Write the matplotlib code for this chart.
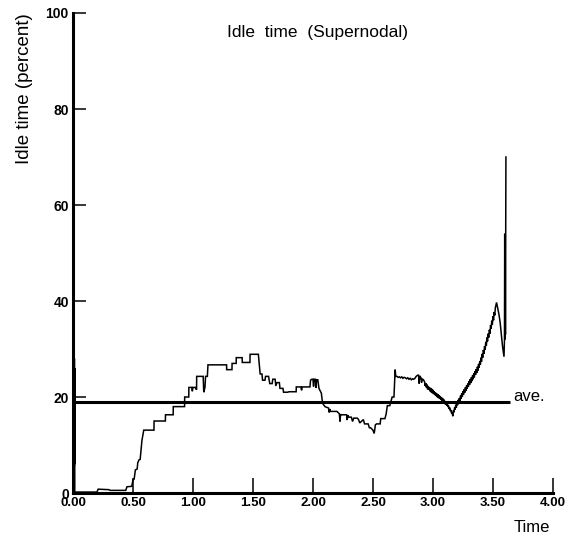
import matplotlib
matplotlib.use("Agg")
import matplotlib.pyplot as plt

plt.rcParams['font.family'] = ['Liberation Sans', 'DejaVu Sans']

# Idle time trace (percent) over time
time = [
    0.000, 0.001, 0.002, 0.003, 0.004, 0.005, 0.006, 0.007, 0.008, 0.009,
    0.010, 0.011, 0.012, 0.013, 0.014, 0.015,
    0.20, 0.21, 0.30, 0.31, 0.44, 0.45, 0.49, 0.50, 0.51, 0.52, 0.535, 0.54,
    0.55, 0.56, 0.575, 0.59, 0.675, 0.676, 0.77, 0.771, 0.835, 0.836, 0.93, 0.931,
    0.965, 0.966, 0.99, 0.995, 1.00, 1.02, 1.03, 1.031, 1.085, 1.09, 1.10, 1.105,
    1.12, 1.125, 1.28, 1.281, 1.325, 1.326, 1.36, 1.361, 1.41, 1.411, 1.475, 1.476,
    1.545, 1.56, 1.575, 1.58, 1.60, 1.605, 1.63, 1.64, 1.66, 1.665, 1.685, 1.69,
    1.70, 1.72, 1.725, 1.75, 1.755, 1.79, 1.80, 1.86, 1.861, 1.90, 1.905, 1.91,
    1.975, 1.98, 1.99, 2.00, 2.005, 2.01, 2.02, 2.025, 2.03, 2.04, 2.05, 2.07,
    2.08, 2.10, 2.13, 2.135, 2.14, 2.145, 2.20, 2.22, 2.225, 2.23, 2.235, 2.28,
    2.285, 2.29, 2.30, 2.32, 2.33, 2.34, 2.37, 2.38, 2.39, 2.42, 2.43, 2.44,
    2.46, 2.47, 2.48, 2.50, 2.51, 2.515, 2.52, 2.53, 2.56, 2.565, 2.60, 2.61,
    2.62, 2.64, 2.66, 2.675, 2.685, 2.69, 2.695, 2.70,
    2.71, 2.72, 2.73, 2.74, 2.75, 2.76, 2.77, 2.78, 2.79, 2.80, 2.81, 2.82,
    2.83, 2.84, 2.85, 2.86, 2.87, 2.88, 2.885, 2.89, 2.90, 2.905, 2.91, 2.92,
    2.93, 2.935, 2.94, 2.945, 2.95, 2.955, 2.96, 2.965, 2.97, 2.975, 2.98, 2.985,
    2.99, 2.995, 3.00, 3.005, 3.01, 3.015, 3.02, 3.025, 3.03, 3.035, 3.04, 3.045,
    3.05, 3.055, 3.06, 3.065, 3.07, 3.075, 3.08, 3.085, 3.09, 3.095, 3.10, 3.105,
    3.11, 3.115, 3.12, 3.125, 3.13, 3.135, 3.14, 3.145, 3.15, 3.155, 3.16, 3.165,
    3.17, 3.175, 3.18, 3.185, 3.19, 3.195, 3.20, 3.205, 3.21, 3.215, 3.22, 3.225,
    3.23, 3.235, 3.24, 3.245, 3.25, 3.255, 3.26, 3.265, 3.27, 3.275, 3.28, 3.285,
    3.29, 3.295, 3.30, 3.305, 3.31, 3.315, 3.32, 3.325, 3.33, 3.335, 3.34, 3.345,
    3.35, 3.355, 3.36, 3.365, 3.37, 3.375, 3.38, 3.385, 3.39, 3.395, 3.40, 3.405,
    3.41, 3.415, 3.42, 3.425, 3.43, 3.435, 3.44, 3.445, 3.45, 3.455, 3.46, 3.465,
    3.47, 3.475, 3.48, 3.485, 3.49, 3.495, 3.50, 3.505, 3.51, 3.515, 3.52, 3.53,
    3.54, 3.55, 3.56, 3.57, 3.58, 3.592,
    3.596, 3.598, 3.600, 3.602, 3.604, 3.606, 3.608,
]
idle = [
    70.0, 6.0, 31.0, 5.5, 30.5, 5.5, 30.0, 5.0, 29.5, 5.0,
    29.0, 5.5, 28.0, 6.0, 26.0, 0.2,
    0.2, 0.8, 0.7, 0.55, 0.55, 1.3, 1.4, 2.7, 2.9, 4.8, 5.0, 6.3,
    6.9, 7.0, 11.0, 13.1, 13.1, 15.0, 15.0, 16.3, 16.3, 18.0, 18.0, 20.0,
    20.0, 22.0, 22.0, 21.2, 22.0, 22.0, 21.5, 24.3, 24.3, 21.0, 22.0, 24.3,
    24.3, 26.7, 26.7, 25.7, 25.7, 27.0, 27.0, 28.2, 28.2, 27.2, 27.2, 28.9,
    28.9, 24.8, 24.8, 23.5, 23.5, 24.3, 24.3, 22.8, 22.8, 23.7, 23.7, 22.3,
    23.0, 23.0, 21.8, 21.8, 21.0, 21.0, 21.1, 21.1, 22.1, 22.1, 21.4, 22.1,
    22.1, 23.5, 23.7, 23.7, 22.2, 23.7, 23.7, 21.9, 23.6, 23.6, 21.8, 20.8,
    18.7, 18.0, 17.7, 16.8, 17.5, 17.0, 17.0, 16.5, 14.9, 16.4, 16.3, 16.3,
    15.2, 16.2, 15.8, 15.8, 14.9, 15.6, 15.6, 15.3, 14.6, 15.3, 14.4, 14.4,
    14.4, 13.6, 13.6, 13.1, 12.4, 13.2, 14.2, 14.4, 14.4, 15.5, 15.5, 16.5,
    18.2, 18.2, 20.0, 20.0, 25.7, 24.3, 24.3, 24.3,
    24.1, 24.2, 24.0, 24.2, 23.9, 24.1, 24.0, 23.8, 24.0, 23.7, 23.9, 23.6,
    23.8, 23.7, 23.9, 24.3, 24.5, 24.6, 22.8, 24.4, 24.0, 23.0, 23.8, 23.6,
    23.2, 22.3, 22.9, 22.0, 22.6, 21.6, 22.3, 21.5, 22.1, 21.2, 21.9, 21.0,
    21.7, 20.8, 21.5, 20.6, 21.2, 20.4, 21.0, 20.2, 20.8, 20.0, 20.6, 19.8,
    20.4, 19.6, 20.2, 19.4, 20.0, 19.2, 19.8, 19.0, 19.5, 18.7, 19.2, 18.4,
    18.9, 18.2, 18.6, 17.9, 18.2, 17.5, 17.8, 17.1, 17.3, 16.6, 16.8, 16.0,
    17.2, 16.8, 17.8, 17.4, 18.4, 17.8, 18.9, 18.3, 19.4, 18.8, 19.8, 19.2,
    20.3, 19.6, 20.8, 20.1, 21.2, 20.5, 21.6, 20.9, 22.0, 21.3, 22.4, 21.7,
    22.8, 22.1, 23.3, 22.5, 23.7, 22.9, 24.1, 23.3, 24.5, 23.7, 24.9, 24.1,
    25.4, 24.6, 25.8, 25.0, 26.3, 25.5, 26.9, 26.1, 27.5, 26.7, 28.2, 27.4,
    29.0, 28.2, 29.8, 29.0, 30.6, 29.8, 31.5, 30.7, 32.4, 31.6, 33.2, 32.4,
    34.0, 33.2, 35.0, 34.2, 35.9, 35.1, 36.8, 36.0, 37.7, 37.0, 38.6, 39.7,
    38.5, 37.2, 35.5, 33.0, 30.5, 28.4,
    32.0, 54.0, 32.0, 54.0, 33.0, 54.0, 70.0,
]

average_idle = 18.9
average_end = 3.64

x_ticks = [0.0, 0.5, 1.0, 1.5, 2.0, 2.5, 3.0, 3.5, 4.0]
x_tick_labels = ["0.00", "0.50", "1.00", "1.50", "2.00", "2.50", "3.00", "3.50", "4.00"]
y_ticks = [0, 20, 40, 60, 80, 100]
y_tick_labels = ["0", "20", "40", "60", "80", "100"]

fig = plt.figure(figsize=(5.70, 5.37), dpi=100)
ax = fig.add_axes([0.128, 0.0819, 0.8421, 0.8939])

ax.plot(time, idle, color="black", linewidth=1.1, solid_joinstyle="miter", clip_on=False)
ax.plot([0.0, average_end], [average_idle, average_idle], color="black", linewidth=2.2,
        solid_capstyle="butt", clip_on=False)

ax.set_xlim(0, 4)
ax.set_ylim(0, 100)

for side in ("top", "right"):
    ax.spines[side].set_visible(False)
for side in ("left", "bottom"):
    ax.spines[side].set_linewidth(2.2)
    ax.spines[side].set_color("black")

ax.set_xticks(x_ticks)
ax.set_xticklabels(x_tick_labels, fontsize=9.5, fontweight="bold")
ax.set_yticks(y_ticks)
ax.set_yticklabels(y_tick_labels, fontsize=10, fontweight="bold")
ax.tick_params(axis="x", direction="in", length=10.5, width=1.1, pad=3.0)
ax.tick_params(axis="y", direction="in", length=9.5, width=1.1, pad=3)

ax.text(0.510, 0.960, "Idle  time  (Supernodal)", transform=ax.transAxes,
        ha="center", va="center", fontsize=12.5)
ax.text(-0.100, 0.842, "Idle time (percent)", transform=ax.transAxes,
        rotation=90, ha="center", va="center", fontsize=13.5)
ax.text(average_end + 0.025, average_idle + 0.2, "ave.", ha="left", va="baseline", fontsize=12)
ax.text(0.919, -0.081, "Time", transform=ax.transAxes, ha="left", va="baseline", fontsize=12)

fig.savefig("out.png", dpi=100)
